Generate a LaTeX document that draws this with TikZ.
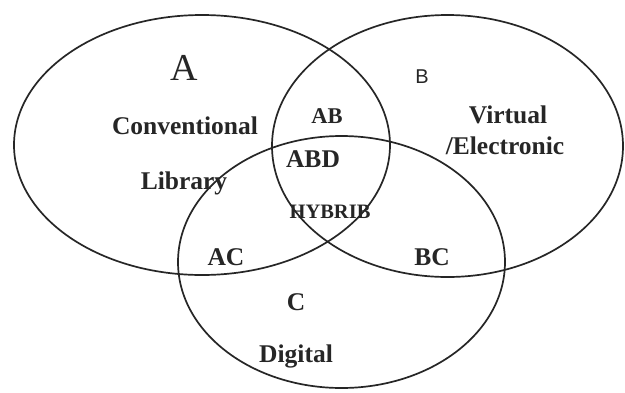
\documentclass[tikz,border=0pt]{standalone}
\usepackage{fontspec}
\setmainfont{Liberation Serif}
\newfontfamily\sansB{Liberation Sans}
\begin{document}
\begin{tikzpicture}[x=1pt,y=-1pt,
  ring/.style={draw=black!85,line width=1.7pt},
  lbl/.style={inner sep=0pt,text=black!85,font=\bfseries\fontsize{25.5}{28}\selectfont},
  smallab/.style={lbl,font=\bfseries\fontsize{22.5}{25}\selectfont},
  smallhy/.style={lbl,font=\bfseries\fontsize{20.5}{24}\selectfont},
  big/.style={inner sep=0pt,text=black!85,font=\fontsize{38}{40}\selectfont}]
\useasboundingbox[fill=white] (0,0) rectangle (625,392);
% sets
\draw[ring] (202,145) ellipse [x radius=188, y radius=130];
\draw[ring] (447.5,146) ellipse [x radius=175.5, y radius=131];
\draw[ring] (341.5,262) ellipse [x radius=163.5, y radius=126];
% labels
\node[big] (la) at (184,68) {A};
\node[inner sep=0pt,text=black!85,font=\sansB\fontsize{20}{22}\selectfont] (lb) at (422,77) {B};
\node[lbl] (conv) at (185,126) {Conventional};
\node[lbl] (lib) at (184,183) {Library};
\node[smallab] (ab) at (327,116) {AB};
\node[lbl] (abd) at (313,159) {ABD};
\node[smallhy] (hyb) at (330,212) {HYBRIB};
\node[lbl] (virt) at (508,115) {Virtual};
\node[lbl] (elec) at (505,146) {/Electronic};
\node[lbl] (ac) at (226,257) {AC};
\node[lbl] (bc) at (432,257) {BC};
\node[lbl] (lc) at (296,302) {C};
\node[lbl] (dig) at (296,356) {Digital};
\end{tikzpicture}
\end{document}
